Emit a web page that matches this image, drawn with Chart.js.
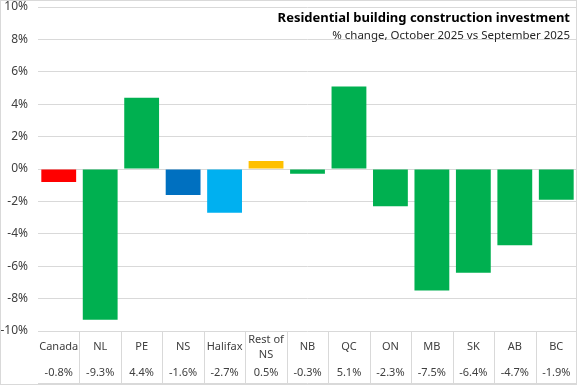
<!DOCTYPE html>
<html>
<head>
<meta charset="utf-8">
<script src="https://cdn.jsdelivr.net/npm/chart.js@4"></script>
<style>
  html, body { margin: 0; padding: 0; background: #fff; }
  #wrap { width: 577px; height: 385px; position: relative; }
</style>
</head>
<body>
<div id="wrap"><canvas id="chart"></canvas></div>
<script>
// categories and values (% change, Oct 2025 vs Sep 2025)
const categories = ['Canada', 'NL', 'PE', 'NS', 'Halifax', ['Rest of', 'NS'], 'NB', 'QC', 'ON', 'MB', 'SK', 'AB', 'BC'];
const changes = [-0.8, -9.3, 4.4, -1.6, -2.7, 0.5, -0.3, 5.1, -2.3, -7.5, -6.4, -4.7, -1.9];
const barColors = ['#FF0000', '#00B050', '#00B050', '#0070C0', '#00B0F0', '#FFC000',
  '#00B050', '#00B050', '#00B050', '#00B050', '#00B050', '#00B050', '#00B050'];
const yTicks = [-10, -8, -6, -4, -2, 0, 2, 4, 6, 8, 10];

const titleText = 'Residential building construction investment';
const subtitleText = '% change, October 2025 vs September 2025';

const FONT = '"Noto Sans", "Liberation Sans", sans-serif';

// data table under the plot, drawn off the x scale
const dataTable = {
  id: 'dataTable',
  afterDraw(chart) {
    const { ctx, chartArea, scales: { x } } = chart;
    const top = chartArea.bottom;
    const bottom = chart.height - 2;
    const half = (x.getPixelForValue(1) - x.getPixelForValue(0)) / 2;
    ctx.save();
    ctx.strokeStyle = '#d9d9d9';
    ctx.lineWidth = 1;
    ctx.beginPath();
    for (let i = 1; i < categories.length; i++) {
      const px = Math.round(x.getPixelForValue(i) - half) + 0.5;
      ctx.moveTo(px, top);
      ctx.lineTo(px, bottom);
    }
    ctx.moveTo(chartArea.left, bottom + 0.5);
    ctx.lineTo(chartArea.right, bottom + 0.5);
    ctx.stroke();

    ctx.fillStyle = '#404040';
    ctx.font = '11px ' + FONT;
    ctx.textAlign = 'center';
    ctx.textBaseline = 'middle';
    categories.forEach((c, i) => {
      const px = x.getPixelForValue(i);
      if (Array.isArray(c)) {
        ctx.fillText(c[0], px, top + 9);
        ctx.fillText(c[1], px, top + 24);
      } else {
        ctx.fillText(c, px, top + 16);
      }
      ctx.fillText(changes[i].toFixed(1) + '%', px, top + 42);
    });
    ctx.restore();
  }
};

// title block with white background on top of the grid
const titleBox = {
  id: 'titleBox',
  afterDraw(chart) {
    const { ctx } = chart;
    ctx.save();
    ctx.font = 'bold 13px ' + FONT;
    const w1 = ctx.measureText(titleText).width;
    ctx.font = '11.5px ' + FONT;
    const w2 = ctx.measureText(subtitleText).width;
    const right = 570;
    ctx.fillStyle = '#fff';
    ctx.fillRect(right - Math.max(w1, w2) - 4, 10, Math.max(w1, w2) + 6, 26);
    ctx.fillStyle = '#000';
    ctx.textAlign = 'right';
    ctx.textBaseline = 'middle';
    ctx.font = 'bold 13px ' + FONT;
    ctx.fillText(titleText, right, 18);
    ctx.fillStyle = '#262626';
    ctx.font = '11.5px ' + FONT;
    ctx.fillText(subtitleText, right, 36);
    // chart border
    ctx.strokeStyle = '#d9d9d9';
    ctx.strokeRect(0.5, 0.5, chart.width - 1, chart.height - 1);
    ctx.restore();
  }
};

new Chart(document.getElementById('chart'), {
  type: 'bar',
  data: {
    labels: categories,
    datasets: [{
      data: changes,
      backgroundColor: barColors,
      borderWidth: 0,
      categoryPercentage: 1,
      barPercentage: 0.84
    }]
  },
  options: {
    responsive: true,
    maintainAspectRatio: false,
    animation: false,
    layout: { padding: { top: 7, right: 0, bottom: 54, left: 0 } },
    plugins: { legend: { display: false }, tooltip: { enabled: false } },
    scales: {
      x: {
        display: false,
        grid: { display: false }
      },
      y: {
        min: -10,
        max: 10,
        afterFit(scale) {
          scale.width = 38;
          scale.paddingTop = 0;
          scale.paddingBottom = 0;
        },
        afterBuildTicks(scale) { scale.ticks = yTicks.map(v => ({ value: v })); },
        border: { display: false },
        grid: { color: '#d9d9d9', drawTicks: false, lineWidth: 1 },
        ticks: {
          padding: 10,
          color: '#404040',
          font: { size: 12, family: FONT },
          callback: v => v + '%'
        }
      }
    }
  },
  plugins: [dataTable, titleBox]
});
</script>
</body>
</html>
